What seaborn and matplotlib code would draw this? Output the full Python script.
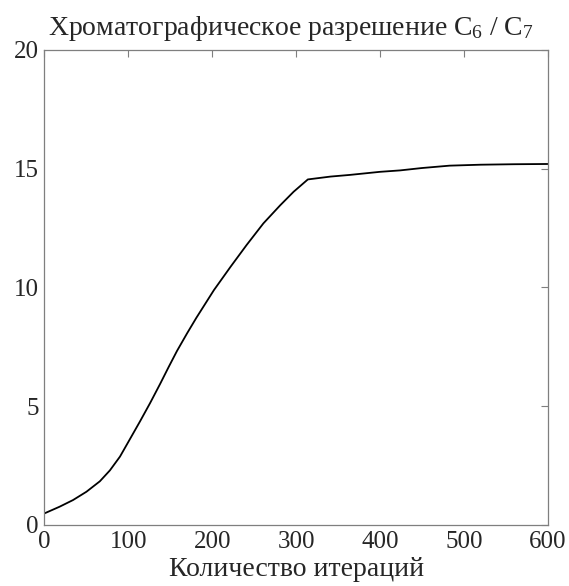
import numpy as np
import pandas as pd
import matplotlib
matplotlib.use('Agg')
import matplotlib.pyplot as plt
import seaborn as sns

# values
iterations = [0, 18, 34, 50, 66, 78, 90, 100, 114, 126, 138, 148, 158, 170, 181,
              195, 202, 222, 241, 261, 281, 297, 314, 341, 364, 400, 424, 450,
              483, 520, 560, 600]
resolution = [0.49, 0.77, 1.05, 1.40, 1.84, 2.3, 2.88, 3.5, 4.37, 5.14, 5.95, 6.65,
              7.33, 8.07, 8.72, 9.5, 9.89, 10.88, 11.79, 12.7, 13.46, 14.03, 14.55,
              14.67, 14.74, 14.87, 14.93, 15.03, 15.13, 15.17, 15.19, 15.2]
x_ticks = [0, 100, 200, 300, 400, 500, 600]
y_ticks = [0, 5, 10, 15, 20]

df = pd.DataFrame({'iter': iterations, 'res': resolution})

sns.set_style('white')
plt.rcParams['font.family'] = ['Liberation Serif', 'DejaVu Serif']
plt.rcParams['mathtext.fontset'] = 'custom'
plt.rcParams['mathtext.rm'] = 'Liberation Serif'
plt.rcParams['mathtext.default'] = 'regular'

fig = plt.figure(figsize=(5.69, 5.86), dpi=100)
ax = fig.add_axes([0.0782, 0.1041, 0.8844, 0.8106])

sns.lineplot(data=df, x='iter', y='res', color='black', linewidth=1.3, ax=ax)

ax.set_xlim(0, 600)
ax.set_ylim(0, 20)
ax.set_xticks(x_ticks)
ax.set_yticks(y_ticks)
ax.tick_params(direction='in', length=5, width=0.8, color='#7f7f7f',
               top=True, right=True, labelsize=18, pad=4.3)
ax.tick_params(axis='x', pad=4.5)
for s in ax.spines.values():
    s.set_color('#7f7f7f')
    s.set_linewidth(0.9)
    s.set_visible(True)

ax.set_xlabel('Количество итераций', fontsize=20, labelpad=2.5)
ax.set_ylabel('')
ax.set_title('Хроматографическое разрешение C$_6$ / C$_7$', fontsize=20, pad=11, x=0.49)

plt.savefig('out.png', dpi=100)
